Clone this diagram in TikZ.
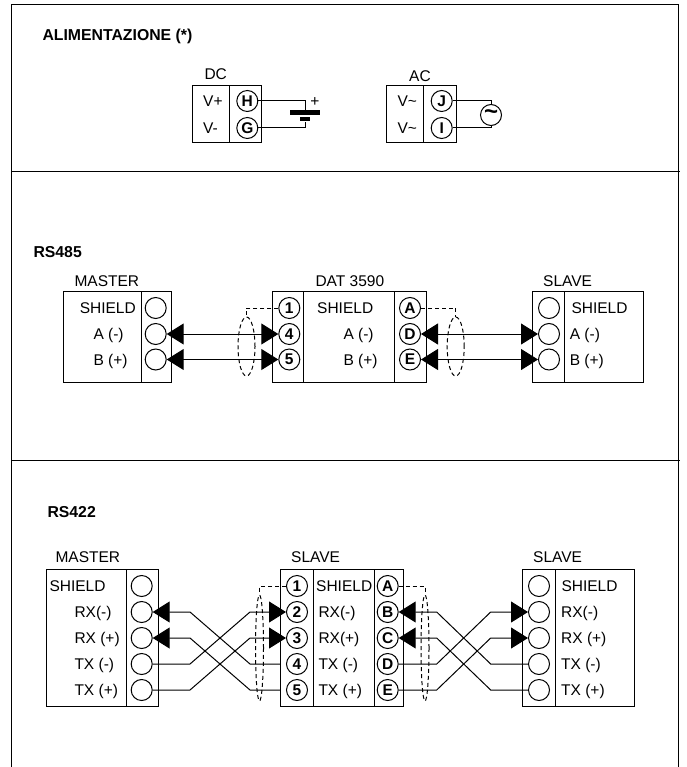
\documentclass[tikz,border=0pt]{standalone}
\usepackage{fontspec}
\setmainfont{Liberation Sans}
\usetikzlibrary{shapes, arrows.meta}

\begin{document}
\begin{tikzpicture} [
  x=1pt,
  y=-1pt,
  line width=1pt,
  arr/.tip={Triangle[length=17pt, width=21pt]},
  lbl/.style={anchor=west, inner sep=0, text height=11pt, text depth=0pt, font=\fontsize{15.5}{18}\selectfont},
  title/.style={lbl, font=\fontsize{15.8}{18}\selectfont\bfseries},
  cell/.style={rectangle, draw},
  pin/.style={circle, draw, inner sep=0, minimum size=21pt, font=\fontsize{15.5}{18}\selectfont\bfseries},
  plate/.style={rectangle, fill, inner sep=0},
  shield/.style={ellipse, draw, dashed, dash pattern=on 4pt off 3pt, inner sep=0},
  screen/.style={dashed, dash pattern=on 4pt off 3pt}
  ]
  \useasboundingbox (0,0) rectangle (686,767);

  % frame
  \draw (11,767) -- (11,4.5) -- (678,4.5) -- (678,767);
  \draw (11,172) -- (680,172);
  \draw (11,460) -- (680,460);

  % ALIMENTAZIONE
  \node(title-pow)[title, at={(42,35.5)}]{ALIMENTAZIONE (*)};
  \node(dc)[lbl, at={(204,74)}]{DC};
  \node(ac)[lbl, at={(408.7,76)}]{AC};
  \node(dc-l)[cell, minimum width=36.3, minimum height=57.3, at={(210.85,114.35)}]{};
  \node(dc-r)[cell, minimum width=32.7, minimum height=57.3, at={(245.35,114.35)}]{};
  \node(ac-l)[cell, minimum width=36.3, minimum height=57.3, at={(404.85,114.35)}]{};
  \node(ac-r)[cell, minimum width=33, minimum height=57.3, at={(439.5,114.35)}]{};
  \node(vp)[lbl, at={(202.7,101)}]{V+};
  \node(vm)[lbl, at={(202.7,128)}]{V-};
  \node(va1)[lbl, at={(397,101)}]{V\textasciitilde};
  \node(va2)[lbl, at={(397,128)}]{V\textasciitilde};
  \node(pin-h)[pin, at={(247.3,101)}]{H};
  \node(pin-g)[pin, at={(247.3,128)}]{G};
  \node(pin-j)[pin, at={(441.7,101)}]{J};
  \node(pin-i)[pin, at={(441.7,128)}]{I};
  \node(bat-long)[plate, minimum width=30, minimum height=5, at={(305,112.7)}]{};
  \node(bat-short)[plate, minimum width=9.5, minimum height=4, at={(305,119.3)}]{};
  \node(plus)[lbl, at={(309.8,100.7)}]{+};
  \node(src)[pin, at={(491,115)}]{\fontsize{24}{24}\selectfont\textasciitilde};

  \draw (pin-h) -| (bat-long);
  \draw (pin-g) -| (bat-short);
  \draw (pin-j) -| (src);
  \draw (pin-i) -| (src);

  % RS485
  \node(title-485)[title, at={(33,252)}]{RS485};
  \node(m485)[lbl, at={(74,280.7)}]{MASTER};
  \node(dat)[lbl, at={(315,280.7)}]{DAT 3590};
  \node(sl485)[lbl, at={(542.7,280.7)}]{SLAVE};

  \node(m485-l)[cell, minimum width=77.7, minimum height=90.6, at={(102.15,337)}]{};
  \node(m485-r)[cell, minimum width=30.7, minimum height=90.6, at={(156.35,337)}]{};
  \node(dat-a)[cell, minimum width=30.6, minimum height=90.6, at={(288,337)}]{};
  \node(dat-b)[cell, minimum width=91, minimum height=90.6, at={(348.8,337)}]{};
  \node(dat-c)[cell, minimum width=32.4, minimum height=90.6, at={(410.5,337)}]{};
  \node(sl485-l)[cell, minimum width=31.3, minimum height=90.6, at={(548.35,337)}]{};
  \node(sl485-r)[cell, minimum width=79.3, minimum height=90.6, at={(603.65,337)}]{};

  \node(m485-s)[lbl, at={(79.3,308)}]{SHIELD};
  \node(m485-a)[lbl, at={(93,334)}]{A (-)};
  \node(m485-b)[lbl, at={(93,359.5)}]{B (+)};
  \node(dat-s)[lbl, at={(316.7,308)}]{SHIELD};
  \node(dat-ma)[lbl, at={(343,334)}]{A (-)};
  \node(dat-mb)[lbl, at={(343,359.5)}]{B (+)};
  \node(sl485-s)[lbl, at={(571,308)}]{SHIELD};
  \node(sl485-a)[lbl, at={(569.3,334)}]{A (-)};
  \node(sl485-b)[lbl, at={(569.3,359.5)}]{B (+)};

  \node(p-m1)[pin, at={(155.7,308)}]{};
  \node(p-m2)[pin, at={(155.7,334)}]{};
  \node(p-m3)[pin, at={(155.7,359.5)}]{};
  \node(p-1)[pin, at={(289.3,308)}]{1};
  \node(p-4)[pin, at={(289.3,334)}]{4};
  \node(p-5)[pin, at={(289.3,359.5)}]{5};
  \node(p-a)[pin, at={(410,308)}]{A};
  \node(p-d)[pin, at={(410,334)}]{D};
  \node(p-e)[pin, at={(410,359.5)}]{E};
  \node(p-s1)[pin, at={(549,308)}]{};
  \node(p-s2)[pin, at={(549,334)}]{};
  \node(p-s3)[pin, at={(549,359.5)}]{};

  \node(ell-l)[shield, minimum width=17, minimum height=59, at={(246.5,346.5)}]{};
  \node(ell-r)[shield, minimum width=17, minimum height=59, at={(455.7,346.5)}]{};
  \draw[screen] (p-1) -| (ell-l);
  \draw[screen] (p-a) -| (ell-r);

  \draw[arr-arr] (p-m2) -- (p-4);
  \draw[arr-arr] (p-m3) -- (p-5);
  \draw[arr-arr] (p-d) -- (p-s2);
  \draw[arr-arr] (p-e) -- (p-s3);

  % RS422
  \node(title-422)[title, at={(47,512)}]{RS422};
  \node(m422)[lbl, at={(55,557)}]{MASTER};
  \node(s1)[lbl, at={(290.7,557)}]{SLAVE};
  \node(s2)[lbl, at={(532.7,557)}]{SLAVE};

  \node(m422-l)[cell, minimum width=80, minimum height=137, at={(86.7,637.5)}]{};
  \node(m422-r)[cell, minimum width=31.6, minimum height=137, at={(142.5,637.5)}]{};
  \node(s1-a)[cell, minimum width=32.6, minimum height=137, at={(297,637.5)}]{};
  \node(s1-b)[cell, minimum width=61, minimum height=137, at={(343.8,637.5)}]{};
  \node(s1-c)[cell, minimum width=29, minimum height=137, at={(388.8,637.5)}]{};
  \node(s2-l)[cell, minimum width=33, minimum height=137, at={(539.2,637.5)}]{};
  \node(s2-r)[cell, minimum width=78.3, minimum height=137, at={(594.85,637.5)}]{};

  \node(m422-t1)[lbl, at={(49,586)}]{SHIELD};
  \node(m422-t2)[lbl, at={(74,612)}]{RX(-)};
  \node(m422-t3)[lbl, at={(74,638)}]{RX (+)};
  \node(m422-t4)[lbl, at={(74,664)}]{TX (-)};
  \node(m422-t5)[lbl, at={(74,690)}]{TX (+)};
  \node(s1-t1)[lbl, at={(315.7,586)}]{SHIELD};
  \node(s1-t2)[lbl, at={(318,612)}]{RX(-)};
  \node(s1-t3)[lbl, at={(318,638)}]{RX(+)};
  \node(s1-t4)[lbl, at={(318,664)}]{TX (-)};
  \node(s1-t5)[lbl, at={(318,690)}]{TX (+)};
  \node(s2-t1)[lbl, at={(561,586)}]{SHIELD};
  \node(s2-t2)[lbl, at={(560.7,612)}]{RX(-)};
  \node(s2-t3)[lbl, at={(560.7,638)}]{RX (+)};
  \node(s2-t4)[lbl, at={(560.7,664)}]{TX (-)};
  \node(s2-t5)[lbl, at={(560.7,690)}]{TX (+)};

  \node(q-m1)[pin, at={(141.7,586)}]{};
  \node(q-m2)[pin, at={(141.7,612)}]{};
  \node(q-m3)[pin, at={(141.7,638)}]{};
  \node(q-m4)[pin, at={(141.7,664)}]{};
  \node(q-m5)[pin, at={(141.7,690)}]{};
  \node(q-1)[pin, at={(297,586)}]{1};
  \node(q-2)[pin, at={(297,612)}]{2};
  \node(q-3)[pin, at={(297,638)}]{3};
  \node(q-4)[pin, at={(297,664)}]{4};
  \node(q-5)[pin, at={(297,690)}]{5};
  \node(q-a)[pin, at={(387.7,586)}]{A};
  \node(q-b)[pin, at={(387.7,612)}]{B};
  \node(q-c)[pin, at={(387.7,638)}]{C};
  \node(q-d)[pin, at={(387.7,664)}]{D};
  \node(q-e)[pin, at={(387.7,690)}]{E};
  \node(q-s1)[pin, at={(539,586)}]{};
  \node(q-s2)[pin, at={(539,612)}]{};
  \node(q-s3)[pin, at={(539,638)}]{};
  \node(q-s4)[pin, at={(539,664)}]{};
  \node(q-s5)[pin, at={(539,690)}]{};

  \node(ell-l2)[shield, minimum width=8, minimum height=106, at={(259.5,648)}]{};
  \node(ell-r2)[shield, minimum width=8, minimum height=106, at={(425,648)}]{};
  \draw[screen] (q-1) -| (ell-l2);
  \draw[screen] (q-a) -| (ell-r2);

  \draw[arr-] (q-m2) -- ++(48.3,0) -- ++(60,52) -- (s1-a.west |- q-4);
  \draw[arr-] (q-m3) -- ++(48.3,0) -- ++(60,52) -- (s1-a.west |- q-5);
  \draw[-arr] (q-m4) -- ++(48.3,0) -- ++(60,-52) -- (q-2);
  \draw[-arr] (q-m5) -- ++(48.3,0) -- ++(60,-52) -- (q-3);

  \draw[arr-] (q-b) -- ++(49,0) -- ++(54,52) -- (q-s4);
  \draw[arr-] (q-c) -- ++(49,0) -- ++(54,52) -- (q-s5);
  \draw[-arr] (q-d) -- ++(49,0) -- ++(54,-52) -- (q-s2);
  \draw[-arr] (q-e) -- ++(49,0) -- ++(54,-52) -- (q-s3);
\end{tikzpicture}
\end{document}
